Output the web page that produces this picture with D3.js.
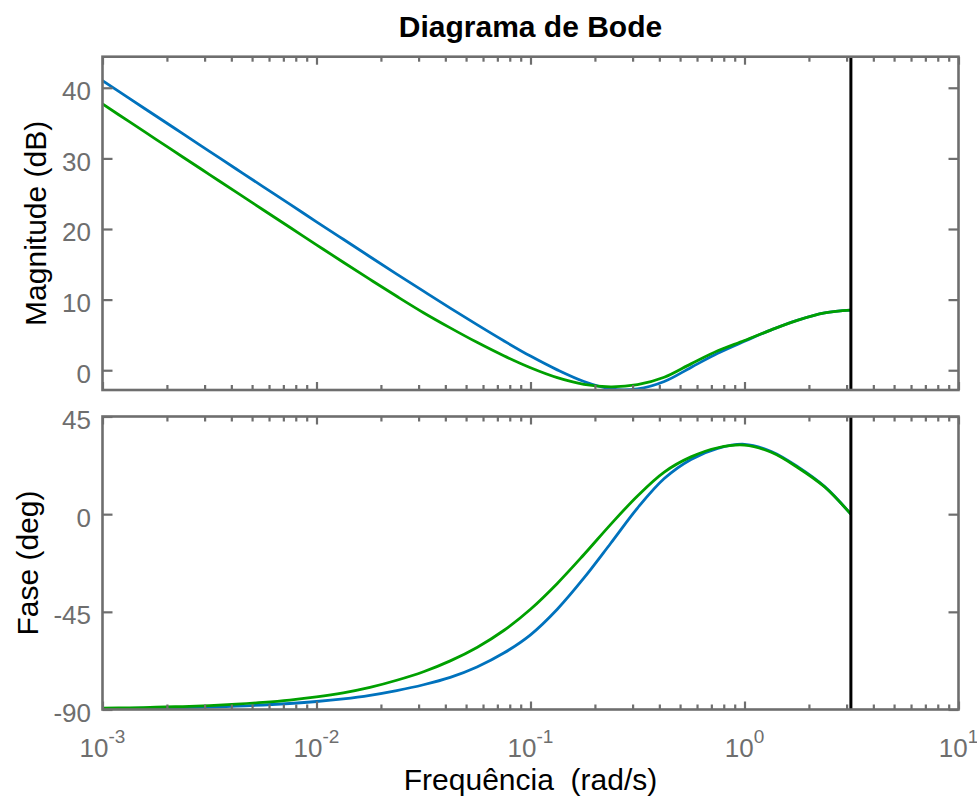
<!DOCTYPE html>
<html><head><meta charset="utf-8">
<script src="https://cdn.jsdelivr.net/npm/d3@7"></script>
<style>body{margin:0;background:#fff}</style>
</head><body><svg id="c" width="977" height="799"></svg>
<script>
// ---- data ----
const freq = [0.001, 0.001334, 0.001778, 0.002371, 0.003162, 0.004217, 0.005623, 0.007499,
  0.01, 0.01334, 0.01778, 0.02371, 0.03162, 0.04217, 0.05623, 0.07499,
  0.1, 0.1334, 0.1778, 0.2371, 0.3162, 0.4217, 0.5623, 0.7499,
  1.0, 1.334, 1.778, 2.371, 3.1416];
const magBlue = [41.0, 38.5, 36.0, 33.5, 31.0, 28.5, 26.0, 23.52,
  21.02, 18.55, 16.07, 13.62, 11.2, 8.8, 6.45, 4.17,
  2.0, 0.05, -1.6, -2.65, -2.65, -1.6, 0.4, 2.4,
  4.1, 5.72, 7.1, 8.12, 8.5];
const magGreen = [37.7, 35.2, 32.7, 30.2, 27.71, 25.22, 22.73, 20.25,
  17.76, 15.29, 12.86, 10.47, 8.15, 6.0, 3.95, 2.05,
  0.35, -1.05, -2.0, -2.35, -2.05, -1.0, 0.9, 2.75,
  4.2, 5.72, 7.1, 8.12, 8.5];
const phaseBlue = [-89.6, -89.5, -89.35, -89.13, -88.84, -88.45, -87.93, -87.24,
  -86.32, -85.09, -83.46, -81.28, -78.6, -75.2, -70.4, -64.0,
  -55.6, -43.8, -29.4, -13.4, 2.8, 16.4, 25.2, 30.3,
  32.2, 28.9, 21.8, 12.7, 0];
const phaseGreen = [-89.42, -89.23, -88.97, -88.63, -88.17, -87.56, -86.75, -85.67,
  -84.23, -82.33, -79.82, -76.53, -72.6, -67.6, -61.4, -53.6,
  -43.8, -31.9, -18.6, -4.7, 8.4, 19.4, 26.4, 30.6,
  31.8, 28.5, 21.4, 12.5, 0];
const nyquist = 3.1416;
const xMajor = [0.001, 0.01, 0.1, 1, 10];
const xMajorExp = ["-3", "-2", "-1", "0", "1"];
const magTicks = [0, 10, 20, 30, 40];
const phaseTicks = [-90, -45, 0, 45];
const magDomain = [-2.8, 44.4];
const phaseDomain = [-90, 45];
const seriesColors = ["#0072bd", "#00a000"];

// ---- layout ----
const L = 102.5, R = 958.5;
const T1 = 56.7, B1 = 390, T2 = 416.5, B2 = 709.5;
const axisCol = "#6e6e6e", font = "Liberation Sans, Arial, sans-serif";

const svg = d3.select("#c");
const x = d3.scaleLog().domain([0.001, 10]).range([L, R]);
const xMinor = x.ticks().filter(v => !xMajor.some(m => Math.abs(m - v) / m < 1e-6));

function panel(y, T, B, ticks, seriesA, seriesB, label, labelX) {
  const g = svg.append("g");
  const clipId = "clip" + Math.round(T);
  svg.append("clipPath").attr("id", clipId).append("rect")
    .attr("x", L).attr("y", T).attr("width", R - L).attr("height", B - T);
  [seriesA, seriesB].forEach((s, i) => {
    const pts = freq.map((f, k) => [f, s[k]]);
    g.append("path").datum(pts)
      .attr("clip-path", `url(#${clipId})`)
      .attr("fill", "none").attr("stroke", seriesColors[i]).attr("stroke-width", 2.8)
      .attr("stroke-linejoin", "round")
      .attr("d", d3.line().x(d => x(d[0])).y(d => y(d[1])).curve(d3.curveCatmullRom.alpha(0.5)));
  });
  g.append("line").attr("x1", x(nyquist)).attr("x2", x(nyquist)).attr("y1", T).attr("y2", B)
    .attr("stroke", "#000").attr("stroke-width", 3);
  const styleAxis = sel => {
    sel.select(".domain").remove();
    sel.selectAll(".tick line").attr("stroke", axisCol).attr("stroke-width", 2.2);
  };
  g.append("g").attr("transform", `translate(0,${B})`)
    .call(d3.axisBottom(x).tickValues(xMajor).tickSize(-8).tickFormat("")).call(styleAxis);
  g.append("g").attr("transform", `translate(0,${B})`)
    .call(d3.axisBottom(x).tickValues(xMinor).tickSize(-5).tickFormat("")).call(styleAxis);
  g.append("g").attr("transform", `translate(0,${T})`)
    .call(d3.axisTop(x).tickValues(xMajor).tickSize(-8).tickFormat("")).call(styleAxis);
  g.append("g").attr("transform", `translate(0,${T})`)
    .call(d3.axisTop(x).tickValues(xMinor).tickSize(-5).tickFormat("")).call(styleAxis);
  const ly = g.append("g").attr("transform", `translate(${L},0)`)
    .call(d3.axisLeft(y).tickValues(ticks).tickSize(-10).tickPadding(11.5).tickFormat(d => String(d)))
    .call(styleAxis);
  ly.selectAll("text").attr("font-family", font).attr("font-size", 26).attr("fill", axisCol)
    .attr("dy", "0.38em").attr("y", 2);
  g.append("g").attr("transform", `translate(${R},0)`)
    .call(d3.axisRight(y).tickValues(ticks).tickSize(-10).tickFormat("")).call(styleAxis);
  g.append("rect").attr("x", L).attr("y", T).attr("width", R - L).attr("height", B - T)
    .attr("fill", "none").attr("stroke", axisCol).attr("stroke-width", 2.6);
  svg.append("text").attr("transform", `translate(${labelX},${(T + B) / 2}) rotate(-90)`)
    .attr("text-anchor", "middle").attr("font-family", font).attr("font-size", 30)
    .attr("fill", "#000").text(label);
}

const yMag = d3.scaleLinear().domain(magDomain).range([B1, T1]);
const yPh = d3.scaleLinear().domain(phaseDomain).range([B2, T2]);
panel(yMag, T1, B1, magTicks, magBlue, magGreen, "Magnitude (dB)", 46);
panel(yPh, T2, B2, phaseTicks, phaseBlue, phaseGreen, "Fase (deg)", 38);

const xl = svg.append("g");
xMajor.forEach((v, i) => {
  const t = xl.append("text").attr("x", x(v)).attr("y", 757).attr("text-anchor", "middle")
    .attr("font-family", font).attr("fill", axisCol).attr("font-size", 26);
  t.append("tspan").text("10");
  t.append("tspan").attr("font-size", 19).attr("dy", -14).text(xMajorExp[i]);
});

svg.append("text").attr("x", (L + R) / 2).attr("y", 37).attr("text-anchor", "middle")
  .attr("font-family", font).attr("font-weight", "bold").attr("font-size", 30).attr("fill", "#000")
  .text("Diagrama de Bode");
svg.append("text").attr("x", (L + R) / 2).attr("y", 790).attr("text-anchor", "middle")
  .attr("font-family", font).attr("font-size", 30).attr("fill", "#000")
  .style("white-space", "pre").text("Frequência  (rad/s)");
</script></body></html>
